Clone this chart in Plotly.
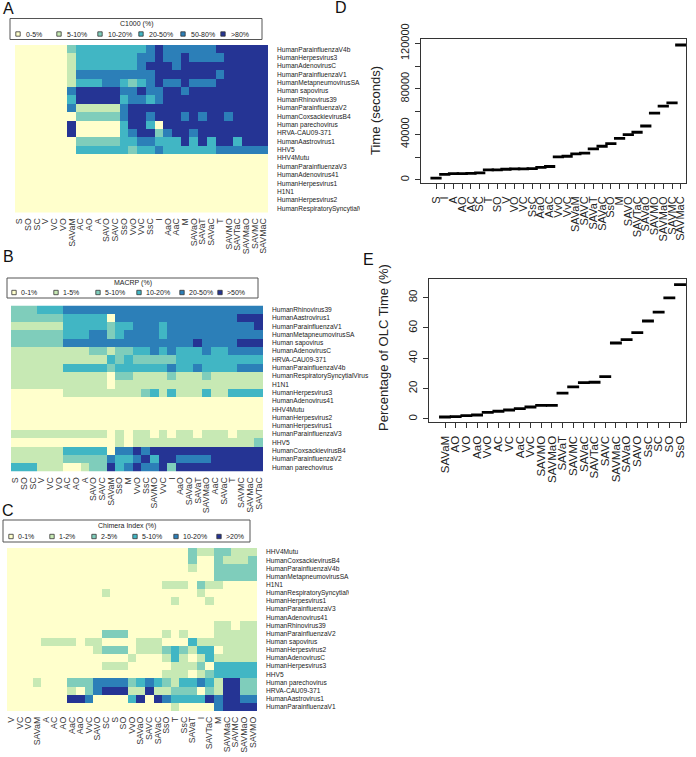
import plotly.graph_objects as go

FONT = "Liberation Sans, Arial, sans-serif"
W, H = 696, 757

# ---------------- data ----------------
palette = ["#FFFFCC", "#C7E9B4", "#7FCDBB", "#41B6C4", "#2C7FB8", "#253494"]

a_methods = ["S", "SO", "SC", "V", "VC", "VO", "SAVaM", "AC", "AO", "A", "SAVO", "SAVC", "SsO", "VvO", "VvC",
             "SsC", "I", "AaO", "AaC", "M", "SAVaO", "SAVaT", "SAVaC", "T", "SAVMO", "SAVTaC", "SAVMaO", "SAVMC", "SAVMaC"]
a_viruses = ["HumanParainfluenzaV4b", "HumanHerpesvirus3", "HumanAdenovirusC", "HumanParainfluenzaV1",
             "HumanMetapneumovirusSA", "Human sapovirus", "HumanRhinovirus39", "HumanParainfluenzaV2",
             "HumanCoxsackievirusB4", "Human parechovirus", "HRVA-CAU09-371", "HumanAastrovirus1", "HHV5",
             "HHV4Mutu", "HumanParainfluenzaV3", "HumanAdenovirus41", "HumanHerpesvirus1", "H1N1",
             "HumanHerpesvirus2", "HumanRespiratorySyncytialVirus"]
a_legend = ["0-5%", "5-10%", "10-20%", "20-50%", "50-80%", ">80%"]
a_levels = [
    [0,0,0,0,0,0,2,3,3,3,3,3,3,3,3,4,5,4,4,4,4,4,4,5,5,5,5,5,5],
    [0,0,0,0,0,0,1,3,3,3,3,3,3,3,4,4,5,4,4,5,4,4,4,4,5,5,5,5,5],
    [0,0,0,0,0,0,1,3,3,3,3,3,3,3,4,5,5,5,4,5,5,5,5,5,5,5,5,5,5],
    [0,0,0,0,0,0,1,4,4,4,4,4,4,4,4,4,5,5,5,5,5,5,5,4,5,5,5,5,5],
    [0,0,0,0,0,0,1,3,3,3,4,4,3,2,3,4,5,4,4,5,4,4,4,5,5,5,5,5,5],
    [0,0,0,0,0,0,4,5,5,5,5,5,4,4,5,4,4,5,5,4,5,5,5,5,5,5,5,5,5],
    [0,0,0,0,0,0,3,5,5,5,5,5,3,4,4,3,4,5,5,5,5,5,5,5,5,5,5,5,5],
    [0,0,0,0,0,0,4,1,1,1,1,1,4,5,5,5,5,5,5,5,5,5,5,5,5,5,5,5,5],
    [0,0,0,0,0,0,0,2,2,2,2,2,4,5,5,4,5,5,5,4,5,4,5,5,4,5,5,5,5],
    [0,0,0,0,0,0,5,0,0,0,0,0,3,5,5,3,0,5,5,5,5,5,5,5,5,5,5,5,5],
    [0,0,0,0,0,0,5,0,0,0,0,0,3,4,5,5,2,4,5,5,4,5,5,5,5,5,5,5,5],
    [0,0,0,0,0,0,0,2,2,2,2,2,3,3,4,4,3,3,3,5,3,5,3,5,5,3,5,5,5],
    [0,0,0,0,0,0,0,3,3,3,3,3,3,2,3,3,4,3,3,3,3,3,3,4,4,4,4,4,4],
    [0] * 29, [0] * 29, [0] * 29, [0] * 29, [0] * 29, [0] * 29, [0] * 29,
]

b_methods = ["S", "SO", "SC", "V", "VC", "VO", "AC", "AO", "A", "SAVO", "SAVC", "SAVaM", "SsO", "M", "VvO",
             "SsC", "SAVMO", "VvC", "I", "AaO", "SAVaO", "SAVaT", "SAVMaO", "AaC", "SAVaC", "T", "SAVMC",
             "SAVMaC", "SAVTaC"]
b_viruses = ["HumanRhinovirus39", "HumanAastrovirus1", "HumanParainfluenzaV1", "HumanMetapneumovirusSA",
             "Human sapovirus", "HumanAdenovirusC", "HRVA-CAU09-371", "HumanParainfluenzaV4b",
             "HumanRespiratorySyncytialVirus", "H1N1", "HumanHerpesvirus3", "HumanAdenovirus41", "HHV4Mutu",
             "HumanHerpesvirus2", "HumanHerpesvirus1", "HumanParainfluenzaV3", "HHV5", "HumanCoxsackievirusB4",
             "HumanParainfluenzaV2", "Human parechovirus"]
b_legend = ["0-1%", "1-5%", "5-10%", "10-20%", "20-50%", ">50%"]
b_levels = [
    [2,2,2,3,3,3] + [4] * 23,
    [2] * 6 + [3] * 5 + [0] + [4] * 14 + [5] * 3,
    [1] * 6 + [3] * 5 + [2] + [3, 3] + [4, 4, 4] + [3] + [4] * 10 + [5],
    [2] * 6 + [3, 3, 3] + [4, 4] + [2] + [3] + [4] + [4, 4, 4] + [3] + [4] * 11,
    [2] * 6 + [4] * 15 + [5] + [4] * 4 + [5] * 3,
    [1] * 9 + [2, 2] + [1] + [2, 2] + [3, 3] + [4] + [3] + [4] + [3, 3, 3] + [4] + [3, 3] + [4] * 4,
    [1] * 11 + [3] + [2] + [3] + [2] * 5 + [3] * 10,
    [1] * 6 + [3] * 5 + [2] + [3] * 6 + [4] + [3, 3] + [4] + [3] * 4 + [4] * 3,
    [1] * 11 + [0] + [2, 2] + [1] * 4 + [2] + [1] * 3 + [2] + [1] * 6,
    [1] * 11 + [0] + [1] * 17,
    [0] * 6 + [1] * 9 + [2] + [3] + [1] + [3] + [1] * 3 + [3] + [1, 1] + [3] * 4,
    [0] * 29, [0] * 29, [0] * 29, [0] * 29,
    [1] * 11 + [0] + [1] + [0] + [1, 1] + [0] + [1] + [0] + [1, 1] + [0] + [1] * 3 + [0] + [1] * 3,
    [0] * 12 + [1] + [0] + [1] * 14 + [2],
    [1] * 6 + [3] * 5 + [0] + [4, 4] + [5] + [4] + [5] * 13,
    [1] * 6 + [2] * 5 + [4] + [3, 3] + [4] + [5] + [3] + [5, 5] + [4] * 4 + [5] * 6,
    [3, 3, 3] + [1, 1, 1] + [0, 0] + [1] + [2, 2] + [5] + [3] + [4] + [5] + [4, 4] + [5] + [2] + [5] * 10,
]

c_methods = ["V", "VC", "VO", "SAVaM", "A", "AC", "AO", "AaC", "AaO", "VvC", "SAVO", "SC", "S", "SO", "VvO",
             "SAVaO", "SAVC", "SAVaC", "SsO", "T", "SsC", "SAVaT", "I", "SAVTaC", "M", "SAVMaC", "SAVMC",
             "SAVMaO", "SAVMO"]
c_viruses = ["HHV4Mutu", "HumanCoxsackievirusB4", "HumanParainfluenzaV4b", "HumanMetapneumovirusSA", "H1N1",
             "HumanRespiratorySyncytialVirus", "HumanHerpesvirus1", "HumanParainfluenzaV3", "HumanAdenovirus41",
             "HumanRhinovirus39", "HumanParainfluenzaV2", "Human sapovirus", "HumanHerpesvirus2",
             "HumanAdenovirusC", "HumanHerpesvirus3", "HHV5", "Human parechovirus", "HRVA-CAU09-371",
             "HumanAastrovirus1", "HumanParainfluenzaV1"]
c_legend = ["0-1%", "1-2%", "2-5%", "5-10%", "10-20%", ">20%"]
c_levels = [
    [0] * 21 + [2] + [1, 1] + [2, 2] + [1, 1, 1],
    [0] * 21 + [2] + [0, 0] + [2] + [1, 1, 1] + [2],
    [0] * 21 + [1] + [0, 0] + [2] * 5,
    [0] * 24 + [2] * 5,
    [0] * 18 + [1, 1, 1] + [0] + [2] + [1, 1] + [0] * 4,
    [0] * 11 + [1] + [0] * 10 + [1] + [0] * 6,
    [0] * 19 + [1] + [0] * 3 + [1] + [0] * 5,
    [0] * 29,
    [0] * 29,
    [0] * 24 + [1, 1] + [0] + [1, 1],
    [0] * 11 + [2, 2, 2] + [0] * 4 + [1] + [0] + [1] + [0] * 3 + [1] * 5,
    [0] * 4 + [1] * 4 + [0] + [1, 1] + [0] * 4 + [1] * 3 + [0] * 3 + [3] + [1] * 7,
    [0] * 10 + [1] + [2, 2, 2] + [0] + [1, 1, 1] + [2] + [3] + [2] + [1] + [3, 3] + [0] + [1] * 4,
    [0] * 14 + [1] + [0] * 3 + [1] + [3] + [1] + [0] + [1] + [3] + [1] * 5,
    [0] * 11 + [1, 1, 1] + [0] * 5 + [1, 1, 1] + [2] + [0] + [3] * 5,
    [0] * 18 + [1, 1, 1] + [0] + [1] + [2] + [3] * 5,
    [0,0,0,1,0,0,0,2,2,2,4,4,4,4,2,3,4,3,2,1,3,3,4,3,1,5,5,2,2],
    [0,0,0,0,0,0,0,1,0,2,4,5,5,5,1,1,5,1,1,2,2,2,0,2,1,5,5,2,2],
    [0,0,0,0,0,0,0,5,5,4,0,0,0,0,3,5,0,5,4,3,3,3,3,5,4,5,5,4,4],
    [0] * 19 + [1] + [0] * 4 + [4] + [5] * 4,
]

d_methods = ["S", "I", "A", "AO", "AC", "SC", "T", "SO", "V", "VO", "VC", "SsC", "AaO", "AaC", "VvO", "VvC",
             "SAVaM", "SAVC", "SAVaT", "SAVaC", "SsO", "M", "SAVO", "SAVTaC", "SAVaO", "SAVMO", "SAVMaO",
             "SAVMC", "SAVMaC"]
d_time_sec = [1500, 4700, 5500, 5500, 5600, 6100, 8800, 8800, 9300, 9600, 9700, 9900, 11000, 11700, 20100,
              20700, 22800, 23400, 27200, 29500, 31800, 36500, 39700, 41800, 47300, 58700, 64800, 67700, 118500]
d_ticks = [0, 20000, 40000, 60000, 80000, 100000, 120000]
d_ticktext = ["0", "", "40000", "", "80000", "", "120000"]

e_methods = ["SAVaM", "AO", "VO", "AaO", "VvO", "AC", "VC", "AaC", "VvC", "SAVMO", "SAVMaO", "SAVaT", "SAVMC",
             "SAVaC", "SAVTaC", "SAVC", "SAVMaC", "SAVaO", "SAVO", "SsC", "SC", "SO", "SsO"]
e_pct_olc = [1.3, 1.5, 2.2, 2.6, 4.4, 5.1, 5.9, 6.8, 7.9, 9.0, 9.0, 17.1, 21.1, 24.0, 24.2, 27.9, 50.1, 52.3,
             56.9, 64.6, 70.5, 79.8, 88.6]
e_ticks = [0, 20, 40, 60, 80]

# ---------------- helpers ----------------
def px(x):
    return x / W


def py(y):
    return 1 - y / H


colorscale = []
for i, c in enumerate(palette):
    colorscale += [[i / 6, c], [(i + 1) / 6, c]]

fig = go.Figure()
shapes = []
annotations = []

heat_panels = [
    (a_methods, a_viruses, a_levels, 1, 15, 268, 45, 212.5, "A", "C1000 (%)", a_legend,
     (10, 262, 18.5, 39.5), (4, 8), 7, (18, 59, 100, 141, 183, 223), 360),
    (b_methods, b_viruses, b_levels, 2, 11, 263, 305.5, 471.5, "B", "MACRP (%)", b_legend,
     (7, 258, 278, 298), (4, 256), 6, (14, 56, 98, 139, 182, 220), None),
    (c_methods, c_viruses, c_levels, 3, 7, 257, 548, 711, "C", "Chimera Index (%)", c_legend,
     (3, 250, 520, 542), (3, 511), 6, (11, 52, 94, 135, 176, 219), 349),
]

for (methods, viruses, levels, k, x0, x1, y0, y1, letter, ltitle, llabels, lbox, lpos, sqoff, sqx,
     clip) in heat_panels:
    xa = "x" if k == 1 else f"x{k}"
    ya = "y" if k == 1 else f"y{k}"
    fig.add_trace(go.Heatmap(
        z=levels, x=list(range(len(methods))), y=list(range(len(viruses))),
        colorscale=colorscale, zmin=-0.5, zmax=5.5, showscale=False,
        xaxis=xa, yaxis=ya, hoverinfo="skip"))
    fig.update_layout({
        f"xaxis{'' if k == 1 else k}": dict(
            domain=[px(x0), px(x1)], anchor=ya, range=[-0.5, len(methods) - 0.5],
            tickmode="array", tickvals=list(range(len(methods))), ticktext=methods,
            tickangle=-90, tickfont=dict(family=FONT, size=8.8, color="#333"),
            showgrid=False, zeroline=False, showline=False, ticks="", ticklabelstandoff=3,
            fixedrange=True, automargin=False),
        f"yaxis{'' if k == 1 else k}": dict(
            domain=[py(y1), py(y0)], anchor=xa, range=[len(viruses) - 0.5, -0.5], side="right",
            tickmode="array", tickvals=list(range(len(viruses))), ticktext=viruses,
            tickfont=dict(family=FONT, size=6.6, color="#222"),
            showgrid=False, zeroline=False, showline=False, ticks="", ticklabelstandoff=8,
            fixedrange=True, automargin=False),
    })
    annotations.append(dict(x=px(lpos[0] - 3), y=py(lpos[1]), xref="paper", yref="paper", text=letter,
                            showarrow=False, xanchor="left", yanchor="middle",
                            font=dict(family=FONT, size=16, color="#111")))
    bx0, bx1, by0, by1 = lbox
    shapes.append(dict(type="rect", xref="paper", yref="paper", x0=px(bx0), x1=px(bx1), y0=py(by1),
                       y1=py(by0), line=dict(color="#555", width=1), fillcolor="white", layer="above"))
    annotations.append(dict(x=px((bx0 + bx1) / 2), y=py(by0 + 5.5), xref="paper", yref="paper", text=ltitle,
                            showarrow=False, xanchor="center", yanchor="middle",
                            font=dict(family=FONT, size=7, color="#222")))
    iy = by1 - 5.5
    for i, (lab, sx) in enumerate(zip(llabels, sqx)):
        shapes.append(dict(type="rect", xref="paper", yref="paper", x0=px(sx - 2.2), x1=px(sx + 2.2),
                           y0=py(iy + 2.2), y1=py(iy - 2.2), line=dict(color="#333", width=0.8),
                           fillcolor=palette[i], layer="above"))
        annotations.append(dict(x=px(sx + sqoff - 1), y=py(iy), xref="paper", yref="paper", text=lab,
                                showarrow=False, xanchor="left", yanchor="middle",
                                font=dict(family=FONT, size=7, color="#222")))
    if clip is not None:
        shapes.append(dict(type="rect", xref="paper", yref="paper", x0=px(clip), x1=px(397),
                           y0=py(y1 + 2), y1=py(y0 - 3), line=dict(width=0), fillcolor="white",
                           layer="above"))

# ---------------- panels D and E ----------------
fig.add_trace(go.Scatter(
    x=list(range(len(d_methods))), y=d_time_sec, mode="markers", xaxis="x4", yaxis="y4",
    marker=dict(symbol="line-ew", size=8, line=dict(width=2.8, color="black")), hoverinfo="skip"))
fig.add_trace(go.Scatter(
    x=list(range(len(e_methods))), y=e_pct_olc, mode="markers", xaxis="x5", yaxis="y5",
    marker=dict(symbol="line-ew", size=8.5, line=dict(width=2.8, color="black")), hoverinfo="skip"))

axis_common = dict(showgrid=False, zeroline=False, showline=True, linecolor="#333", linewidth=1, mirror=True,
                   ticks="outside", ticklen=5, tickcolor="#333", tickwidth=1, fixedrange=True, automargin=False)
fig.update_layout(
    xaxis4=dict(domain=[px(421), px(686)], anchor="y4", range=[-1.72, 28.6], tickmode="array",
                tickvals=list(range(len(d_methods))), ticktext=d_methods, tickangle=-90,
                tickfont=dict(family=FONT, size=11, color="#222"), ticklabelstandoff=3, **axis_common),
    yaxis4=dict(domain=[py(183), py(39.3)], anchor="x4", range=[-2800, 123500], tickmode="array",
                tickvals=d_ticks, ticktext=d_ticktext, tickangle=-90,
                tickfont=dict(family=FONT, size=11, color="#222"), ticklabelstandoff=2, **axis_common),
    xaxis5=dict(domain=[px(429.3), px(686)], anchor="y5", range=[-1.47, 22.56], tickmode="array",
                tickvals=list(range(len(e_methods))), ticktext=e_methods, tickangle=-90,
                tickfont=dict(family=FONT, size=11.5, color="#222"), ticklabelstandoff=3, **axis_common),
    yaxis5=dict(domain=[py(422.3), py(279.3)], anchor="x5", range=[-2.2, 92.1], tickmode="array",
                tickvals=e_ticks, ticktext=[str(t) for t in e_ticks], tickangle=-90,
                tickfont=dict(family=FONT, size=11.5, color="#222"), ticklabelstandoff=2, **axis_common),
)

annotations += [
    dict(x=px(333), y=py(7.5), xref="paper", yref="paper", text="D", showarrow=False, xanchor="left",
         yanchor="middle", font=dict(family=FONT, size=16, color="#111")),
    dict(x=px(361), y=py(259), xref="paper", yref="paper", text="E", showarrow=False, xanchor="left",
         yanchor="middle", font=dict(family=FONT, size=16, color="#111")),
    dict(x=px(375), y=py(111), xref="paper", yref="paper", text="Time (seconds)", textangle=-90,
         showarrow=False, xanchor="center", yanchor="middle", font=dict(family=FONT, size=13, color="#222")),
    dict(x=px(383), y=py(348), xref="paper", yref="paper", text="Percentage of OLC Time (%)", textangle=-90,
         showarrow=False, xanchor="center", yanchor="middle", font=dict(family=FONT, size=13, color="#222")),
]

fig.update_layout(
    width=W, height=H, margin=dict(l=0, r=0, t=0, b=0, autoexpand=False), paper_bgcolor="white",
    plot_bgcolor="white", showlegend=False, shapes=shapes, annotations=annotations, font=dict(family=FONT),
)

fig.write_html("out.html", config={"displayModeBar": False},
               post_script="document.body.style.margin='0';document.body.style.padding='0';")
